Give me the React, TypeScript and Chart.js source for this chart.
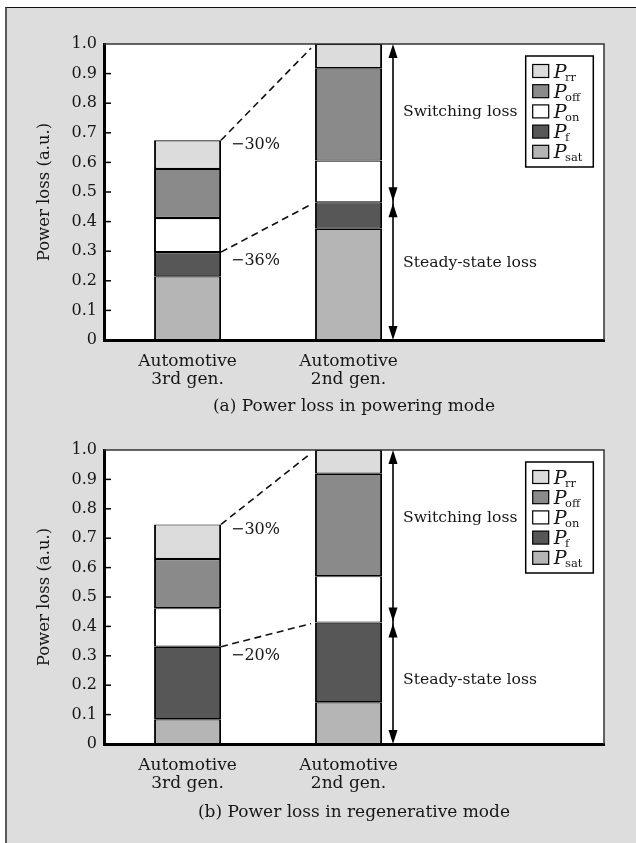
import React, { useEffect, useRef } from 'react';
import { Chart, registerables } from 'chart.js';

Chart.register(...registerables);

const FONT = '"DejaVu Serif", "Liberation Serif", serif';
const TEXT = '#161616';

// categories (x axis)
const categories: string[][] = [
  ['Automotive', '3rd gen.'],
  ['Automotive', '2nd gen.'],
];
// y tick labels
const yTickValues = [0, 0.1, 0.2, 0.3, 0.4, 0.5, 0.6, 0.7, 0.8, 0.9, 1.0];
const yTickLabels = ['0', '0.1', '0.2', '0.3', '0.4', '0.5', '0.6', '0.7', '0.8', '0.9', '1.0'];

// series (stack order bottom -> top), subscripts of "P"
const seriesSubscripts = ['sat', 'f', 'on', 'off', 'rr'];
const seriesColors = ['#b5b5b5', '#575757', '#ffffff', '#8a8a8a', '#dcdcdc'];

// (a) powering mode
const poweringSat = [0.215, 0.376];
const poweringF = [0.082, 0.089];
const poweringOn = [0.115, 0.141];
const poweringOff = [0.166, 0.312];
const poweringRr = [0.097, 0.082];
const poweringReductions = ['\u221230%', '\u221236%'];

// (b) regenerative mode
const regenSat = [0.084, 0.142];
const regenF = [0.247, 0.271];
const regenOn = [0.131, 0.158];
const regenOff = [0.167, 0.348];
const regenRr = [0.118, 0.081];
const regenReductions = ['\u221230%', '\u221220%'];

const yTitle = 'Power loss (a.u.)';
const captions = ['(a) Power loss in powering mode', '(b) Power loss in regenerative mode'];
const bracketLabels = ['Switching loss', 'Steady-state loss'];

type Deco = {
  reductions: string[];
  switchingAt: number;
  steadyAt: number;
};

function drawHead(ctx: CanvasRenderingContext2D, x: number, tipY: number, dir: number) {
  const len = 14;
  const hw = 4.5;
  ctx.beginPath();
  ctx.moveTo(x, tipY);
  ctx.lineTo(x - hw, tipY - dir * len);
  ctx.lineTo(x + hw, tipY - dir * len);
  ctx.closePath();
  ctx.fill();
}

function decoPlugin(opts: Deco) {
  return {
    id: 'deco',
    beforeDraw(chart: any) {
      const { ctx, chartArea: a } = chart;
      ctx.save();
      ctx.fillStyle = '#ffffff';
      ctx.fillRect(a.left, a.top, a.right - a.left, a.bottom - a.top);
      ctx.restore();
    },
    afterDraw(chart: any) {
      const { ctx, chartArea: a, scales } = chart;
      const y = scales.y;
      ctx.save();
      ctx.strokeStyle = '#333';
      ctx.lineWidth = 1.5;
      ctx.beginPath();
      ctx.moveTo(a.left, a.top);
      ctx.lineTo(a.right, a.top);
      ctx.lineTo(a.right, a.bottom);
      ctx.stroke();
      ctx.strokeStyle = '#000';
      ctx.lineWidth = 1.5;
      y.ticks.forEach((t: any) => {
        if (t.value <= 0 || t.value >= 1) return;
        const py = y.getPixelForValue(t.value);
        ctx.beginPath();
        ctx.moveTo(a.left, py);
        ctx.lineTo(a.left + 7, py);
        ctx.stroke();
      });

      const topEls = chart.getDatasetMeta(4).data;
      const steadyEls = chart.getDatasetMeta(1).data;
      const edge = (el: any, side: number) => el.x + (side * el.width) / 2;

      ctx.setLineDash([7, 4.5]);
      ctx.lineWidth = 1.6;
      ctx.strokeStyle = '#111';
      [topEls, steadyEls].forEach((els: any[]) => {
        const x1 = edge(els[0], 1);
        const y1 = els[0].y;
        const x2 = edge(els[1], -1);
        const y2 = els[1].y;
        const t = (x2 - 4 - x1) / (x2 - x1);
        ctx.beginPath();
        ctx.moveTo(x1, y1);
        ctx.lineTo(x1 + (x2 - x1) * t, y1 + (y2 - y1) * t);
        ctx.stroke();
      });
      ctx.setLineDash([]);

      ctx.font = `16px ${FONT}`;
      ctx.fillStyle = TEXT;
      ctx.textAlign = 'left';
      ctx.textBaseline = 'middle';
      ctx.fillText(opts.reductions[0], edge(topEls[0], 1) + 10, topEls[0].y + 5);
      ctx.fillText(opts.reductions[1], edge(steadyEls[0], 1) + 10, steadyEls[0].y + 9);

      const ax = edge(topEls[1], 1) + 11;
      const yTop = topEls[1].y;
      const ySplit = steadyEls[1].y;
      const yBot = y.getPixelForValue(0);
      ctx.strokeStyle = '#000';
      ctx.fillStyle = '#000';
      ctx.lineWidth = 1.6;
      ctx.beginPath();
      ctx.moveTo(ax, yTop + 4);
      ctx.lineTo(ax, yBot - 4);
      ctx.stroke();
      drawHead(ctx, ax, yTop, -1);
      drawHead(ctx, ax, ySplit - 1, 1);
      drawHead(ctx, ax, ySplit + 1, -1);
      drawHead(ctx, ax, yBot, 1);

      ctx.fillStyle = TEXT;
      ctx.font = `15.6px ${FONT}`;
      ctx.fillText(bracketLabels[0], ax + 10, y.getPixelForValue(opts.switchingAt));
      ctx.fillText(bracketLabels[1], ax + 10, y.getPixelForValue(opts.steadyAt));

      const bw = 67.6;
      const bh = 111;
      const bx = a.right - 10.7 - bw;
      const by = a.top + 12;
      ctx.fillStyle = '#fff';
      ctx.fillRect(bx, by, bw, bh);
      ctx.strokeStyle = '#000';
      ctx.lineWidth = 1.5;
      ctx.strokeRect(bx, by, bw, bh);
      for (let r = 0; r < seriesSubscripts.length; r++) {
        const si = seriesSubscripts.length - 1 - r;
        const cy = by + 15 + r * 20.2;
        ctx.fillStyle = seriesColors[si];
        ctx.fillRect(bx + 7, cy - 6.5, 16, 13);
        ctx.lineWidth = 1.2;
        ctx.strokeRect(bx + 7, cy - 6.5, 16, 13);
        ctx.fillStyle = TEXT;
        ctx.textBaseline = 'alphabetic';
        ctx.font = `italic 19px ${FONT}`;
        const px = bx + 28;
        const base = cy + 6.5;
        ctx.fillText('P', px, base);
        const pw = ctx.measureText('P').width;
        ctx.font = `11.5px ${FONT}`;
        ctx.fillText(seriesSubscripts[si], px + pw - 1.5, base + 3);
      }
      ctx.restore();
    },
  };
}

function makeConfig(
  values: number[][],
  caption: string,
  padTop: number,
  xHeight: number,
  captionPad: number,
  deco: Deco
): any {
  return {
    type: 'bar',
    data: {
      datasets: values.map((vals, i) => ({
        label: 'P_' + seriesSubscripts[i],
        data: vals.map((v, j) => ({ x: j, y: v })),
        backgroundColor: seriesColors[i],
        borderColor: '#000',
        borderWidth: { top: 1.2, bottom: 1.2, left: 1.9, right: 1.9 },
        borderSkipped: false,
        barPercentage: 0.416,
        categoryPercentage: 1,
      })),
    },
    options: {
      responsive: false,
      animation: false,
      devicePixelRatio: 1,
      layout: { padding: { left: 0, top: padTop, right: 32, bottom: 0 } },
      plugins: { legend: { display: false }, tooltip: { enabled: false } },
      scales: {
        x: {
          type: 'linear',
          offset: false,
          stacked: true,
          min: -0.519,
          max: 2.587,
          bounds: 'data',
          z: 1,
          afterBuildTicks: (s: any) => {
            s.ticks = categories.map((_, i) => ({ value: i }));
          },
          afterFit: (s: any) => {
            s.height = xHeight;
          },
          grid: { display: false, drawTicks: false, offset: false },
          border: { display: true, color: '#000', width: 3 },
          ticks: {
            autoSkip: false,
            maxRotation: 0,
            padding: 12,
            color: TEXT,
            font: { family: FONT, size: 17, lineHeight: 1.1 },
            callback: (v: any) => categories[Math.round(v)] ?? '',
          },
          title: {
            display: true,
            text: caption,
            color: TEXT,
            font: { family: FONT, size: 17 },
            padding: { top: 0, bottom: captionPad },
          },
        },
        y: {
          stacked: true,
          min: 0,
          max: 1,
          z: 1,
          afterBuildTicks: (s: any) => {
            s.ticks = yTickValues.map((v) => ({ value: v }));
          },
          afterFit: (s: any) => {
            s.width = 104;
          },
          grid: { display: false, drawTicks: false },
          border: { display: true, color: '#000', width: 3 },
          ticks: {
            padding: 7,
            color: TEXT,
            font: { family: FONT, size: 16 },
            callback: (v: any) => yTickLabels[Math.round(v * 10)],
          },
          title: {
            display: true,
            text: yTitle,
            color: TEXT,
            font: { family: FONT, size: 16.5 },
            padding: { top: 35, bottom: 0 },
          },
        },
      },
    },
    plugins: [decoPlugin(deco)],
  };
}

export default function App() {
  const ref1 = useRef<HTMLCanvasElement>(null);
  const ref2 = useRef<HTMLCanvasElement>(null);

  useEffect(() => {
    const c1 = new Chart(
      ref1.current as HTMLCanvasElement,
      makeConfig(
        [poweringSat, poweringF, poweringOn, poweringOff, poweringRr],
        captions[0],
        44,
        81,
        4.3,
        { reductions: poweringReductions, switchingAt: 0.77, steadyAt: 0.26 }
      )
    );
    const c2 = new Chart(
      ref2.current as HTMLCanvasElement,
      makeConfig(
        [regenSat, regenF, regenOn, regenOff, regenRr],
        captions[1],
        29,
        99,
        20,
        { reductions: regenReductions, switchingAt: 0.77, steadyAt: 0.218 }
      )
    );
    return () => {
      c1.destroy();
      c2.destroy();
    };
  }, []);

  return (
    <div style={{ position: 'fixed', left: 0, top: 0, width: 636, height: 843, overflow: 'hidden' }}>
      <div
        style={{
          position: 'absolute',
          left: 5,
          top: 7,
          width: 700,
          height: 900,
          background: '#dcdddc',
          borderTop: '1.5px solid #111',
          borderLeft: '2px solid #5a5a5a',
        }}
      />
      <canvas ref={ref1} width={636} height={421} style={{ position: 'absolute', left: 0, top: 0 }} />
      <canvas ref={ref2} width={636} height={422} style={{ position: 'absolute', left: 0, top: 421 }} />
    </div>
  );
}
